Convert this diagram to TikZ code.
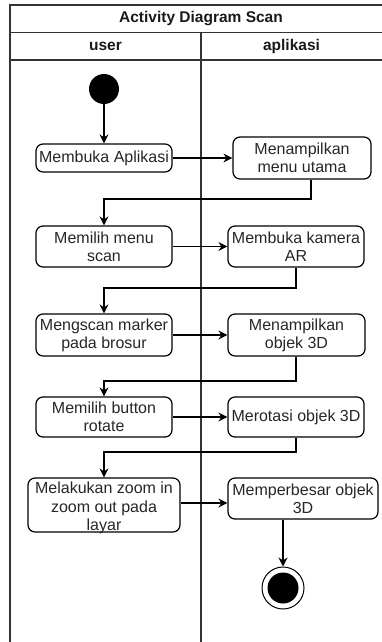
\documentclass[tikz,border=0pt]{standalone}
\usepackage{fontspec}
\setmainfont{Liberation Sans}
\usetikzlibrary{arrows.meta}
\begin{document}
\begin{tikzpicture}[x=1pt,y=-1pt,
  act/.style={draw=black, line width=1.2pt, rounded corners=7pt, align=center, inner sep=0pt,
    font=\fontsize{16}{17.8}\selectfont, text=black!85},
  hdr/.style={font=\bfseries\fontsize{15.5}{18}\selectfont, text=black!90, inner sep=0pt},
  flow/.style={draw=black, line width=1.3pt, -{Stealth[length=9pt,width=9pt]}},
  lane/.style={draw=black!80, line width=1.3pt}]
\useasboundingbox (0,0) rectangle (382,642);
% swimlane frame
\draw[lane] (10,642) -- (10,5) -- (395,5);
\draw[lane] (10,32.5) -- (395,32.5);
\draw[lane] (10,60) -- (395,60);
\draw[lane] (201,32.5) -- (201,642);
\node[hdr] (title) at (201,18.5) {Activity Diagram Scan};
\node[hdr] (user) at (105.5,46) {user};
\node[hdr] (apl) at (291.5,46) {aplikasi};
% start / end
\node[circle, fill=black, minimum size=30pt, inner sep=0pt] (start) at (104,89) {};
\node[circle, draw=black, line width=1pt, minimum size=42pt, inner sep=0pt] (end) at (283,588) {};
\node[circle, fill=black, minimum size=31pt, inner sep=0pt] (endin) at (283,588) {};
% activities
\node[act, minimum width=136pt, minimum height=28pt] (a1) at (104,158) {Membuka Aplikasi};
\node[act, minimum width=138pt, minimum height=42pt] (b1) at (302,158) {Menampilkan\\menu utama};
\node[act, minimum width=136pt, minimum height=41pt] (a2) at (104,246.5) {Memilih menu\\scan};
\node[act, minimum width=136pt, minimum height=41pt] (b2) at (296,246.5) {Membuka kamera\\AR};
\node[act, minimum width=136pt, minimum height=42pt] (a3) at (104,335) {Mengscan marker\\pada brosur};
\node[act, minimum width=137pt, minimum height=42pt] (b3) at (296.5,335) {Menampilkan\\objek 3D};
\node[act, minimum width=136pt, minimum height=40pt] (a4) at (104,417) {Memilih button\\rotate};
\node[act, minimum width=136pt, minimum height=40pt] (b4) at (296,417) {Merotasi objek 3D};
\node[draw=black, line width=1.2pt, rounded corners=7pt, minimum width=152pt, minimum height=54pt] (a5) at (104,505) {};
\node[align=center, inner sep=0pt, font=\fontsize{16}{18.5}\selectfont, text=black!85] (a5t) at (104,508) {Melakukan zoom in\\zoom out pada\\layar};
\node[act, minimum width=150pt, minimum height=41pt] (b5) at (303,498.5) {Memperbesar objek\\3D};
% flows
\draw[flow] (start) -- (a1);
\draw[flow] (a1) -- (b1);
\draw[flow] (b1.south -| 311,0) -- (311,199) -- (104,199) -- (a2);
\draw[flow] (a2) -- (b2);
\draw[flow] (b2.south) -- (296,288) -- (104,288) -- (a3);
\draw[flow] (a3) -- (b3);
\draw[flow] (b3.south -| 296,0) -- (296,381) -- (104,381) -- (a4);
\draw[flow] (a4) -- (b4);
\draw[flow] (b4.south) -- (296,452) -- (104,452) -- (a5);
\draw[flow] (a5.east |- 0,503) -- (b5.west |- 0,503);
\draw[flow] (b5.south -| end) -- (end);
\end{tikzpicture}
\end{document}
